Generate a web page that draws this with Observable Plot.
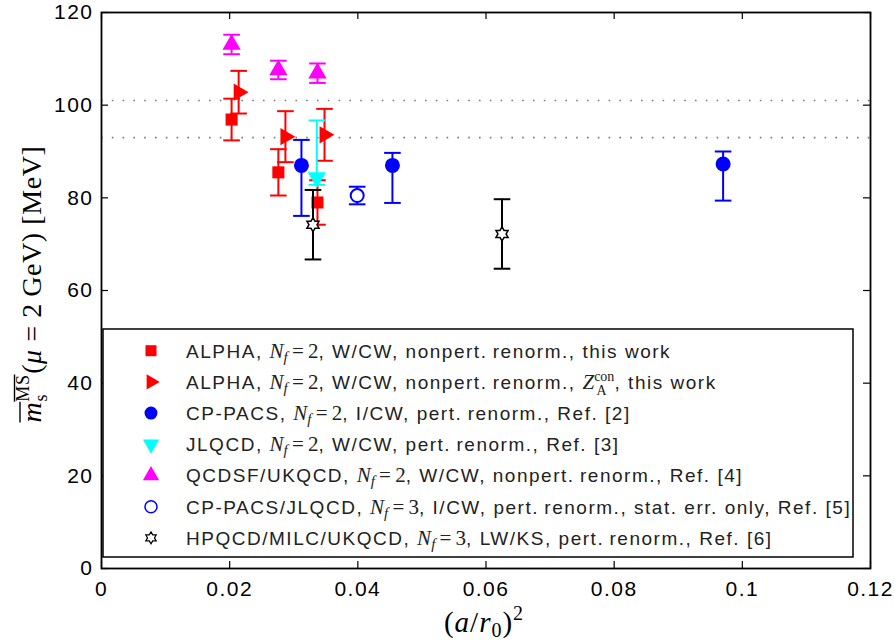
<!DOCTYPE html>
<html><head><meta charset="utf-8">
<script src="https://cdn.jsdelivr.net/npm/d3@7"></script>
<script src="https://cdn.jsdelivr.net/npm/@observablehq/plot@0.6"></script>
<style>body{margin:0;background:#fff}</style>
</head><body><div id="chart"></div>
<script>
// ---------- data ----------
const xTicks = [0, 0.02, 0.04, 0.06, 0.08, 0.1, 0.12];
const yTicks = [0, 20, 40, 60, 80, 100, 120];
const refLines = [93, 101];

const seriesNames = ["ALPHA", "ALPHA-Zcon", "CP-PACS", "JLQCD", "QCDSF/UKQCD", "CP-PACS/JLQCD", "HPQCD/MILC/UKQCD"];
const seriesColors = ["#ff0000", "#ff0000", "#0000ff", "#00ffff", "#ff00ff", "#0000ff", "#000000"];

const alphaX = [0.0203, 0.0276, 0.0337];
const alphaM = [96.9, 85.5, 79.0];
const alphaErr = [4.5, 5.0, 4.8];

const alphaZX = [0.0214, 0.0287, 0.0348];
const alphaZM = [102.8, 93.2, 93.6];
const alphaZErr = [4.6, 5.5, 5.6];

const cppacsX = [0.0312, 0.0454, 0.0970];
const cppacsM = [87.0, 87.0, 87.3];
const cppacsErrUp = [5.5, 2.7, 2.7];
const cppacsErrDn = [10.9, 8.1, 7.9];

const jlqcdX = [0.0336];
const jlqcdM = [84.4];
const jlqcdErrUp = [12.3];
const jlqcdErrDn = [1.6];

const qcdsfX = [0.0203, 0.0276, 0.0337];
const qcdsfM = [113.1, 107.6, 106.9];
const qcdsfErr = [2.1, 2.0, 2.1];

const nf3X = [0.0399];
const nf3M = [80.5];
const nf3Err = [1.9];

const hpqcdX = [0.0330, 0.0625];
const hpqcdM = [74.2, 72.2];
const hpqcdErr = [7.5, 7.5];

const legendLabels = [
  "ALPHA, {N2}, W/CW, nonpert.\u2009renorm., this work",
  "ALPHA, {N2}, W/CW, nonpert.\u2009renorm., {Z}, this work",
  "CP-PACS, {N2}, I/CW, pert.\u2009renorm., Ref. [2]",
  "JLQCD, {N2}, W/CW, pert.\u2009renorm., Ref. [3]",
  "QCDSF/UKQCD, {N2}, W/CW, nonpert.\u2009renorm., Ref. [4]",
  "CP-PACS/JLQCD, {N3}, I/CW, pert.\u2009renorm., stat. err. only, Ref. [5]",
  "HPQCD/MILC/UKQCD, {N3}, LW/KS, pert.\u2009renorm., Ref. [6]"
];

// ---------- build table ----------
function rows(si, xs, ms, up, dn) {
  return xs.map((x, i) => ({series: seriesNames[si], color: seriesColors[si], x, y: ms[i], hi: ms[i] + up[i], lo: ms[i] - (dn || up)[i]}));
}
const groups = [
  rows(0, alphaX, alphaM, alphaErr),
  rows(1, alphaZX, alphaZM, alphaZErr),
  rows(2, cppacsX, cppacsM, cppacsErrUp, cppacsErrDn),
  rows(3, jlqcdX, jlqcdM, jlqcdErrUp, jlqcdErrDn),
  rows(4, qcdsfX, qcdsfM, qcdsfErr),
  rows(5, nf3X, nf3M, nf3Err),
  rows(6, hpqcdX, hpqcdM, hpqcdErr)
];

// ---------- symbols ----------
const capSymbol = {draw(c, size) { const w = Math.sqrt(size / Math.PI); c.moveTo(-w, 0); c.lineTo(w, 0); }};
const hexagram = {draw(c, size) {
  const R = Math.sqrt(size / Math.PI), r = R / Math.sqrt(3);
  for (let k = 0; k < 12; k++) {
    const a = -Math.PI / 2 + k * Math.PI / 6, rr = k % 2 ? r : R;
    const px = rr * Math.cos(a), py = rr * Math.sin(a);
    k ? c.lineTo(px, py) : c.moveTo(px, py);
  }
  c.closePath();
}};
const markerSpec = [
  {symbol: "square", r: 6.8, fill: true},
  {symbol: "triangle", r: 6.4, rotate: 90, fill: true},
  {symbol: "circle", r: 7.5, fill: true},
  {symbol: "triangle", r: 6.8, rotate: 180, fill: true},
  {symbol: "triangle", r: 6.8, fill: true},
  {symbol: "circle", r: 6.5, fill: false},
  {symbol: hexagram, r: 7, fill: false, star: true}
];

// ---------- plot ----------
const W = 895, H = 641, mL = 101, mR = 25, mT = 12, mB = 73;
const innerW = W - mL - mR, innerH = H - mT - mB;
const fmt = d => String(+d.toFixed(2));

const marks = [
  Plot.ruleY(refLines, {y: d => d, stroke: "#7a7a7a", strokeWidth: 1.6, strokeDasharray: "1.6 9.2"}),
  Plot.tickX(xTicks, {x: d => d, insetTop: innerH - 7, stroke: "black", strokeWidth: 1.2}),
  Plot.tickX(xTicks, {x: d => d, insetBottom: innerH - 7, stroke: "black", strokeWidth: 1.2}),
  Plot.tickY(yTicks, {y: d => d, insetRight: innerW - 7, stroke: "black", strokeWidth: 1.2}),
  Plot.tickY(yTicks, {y: d => d, insetLeft: innerW - 7, stroke: "black", strokeWidth: 1.2}),
  Plot.axisX({ticks: xTicks, tickSize: 0, tickPadding: 13, tickFormat: fmt, label: null, fontSize: 21}),
  Plot.axisY({ticks: yTicks, tickSize: 0, tickPadding: 8, label: null, fontSize: 21})
];
groups.forEach((g, i) => {
  const m = markerSpec[i];
  marks.push(
    Plot.ruleX(g, {x: "x", y1: "lo", y2: "hi", stroke: d => d.color, strokeWidth: 2}),
    Plot.dot(g, {x: "x", y: "lo", symbol: capSymbol, r: 8.3, stroke: d => d.color, strokeWidth: 2, fill: "none"}),
    Plot.dot(g, {x: "x", y: "hi", symbol: capSymbol, r: 8.3, stroke: d => d.color, strokeWidth: 2, fill: "none"}),
    Plot.dot(g, {x: "x", y: "y", symbol: m.symbol, r: m.r, rotate: m.rotate || 0,
      fill: m.fill ? (d => d.color) : "white",
      stroke: m.fill ? "none" : (d => d.color), strokeWidth: m.star ? 1.5 : 2})
  );
});
marks.push(Plot.frame({stroke: "black", strokeWidth: 1.8}));

const svgEl = Plot.plot({
  width: W, height: H, marginLeft: mL, marginRight: mR, marginTop: mT, marginBottom: mB,
  x: {domain: [0, 0.12]}, y: {domain: [0, 120]},
  color: {type: "identity"},
  style: {fontFamily: "'Liberation Sans', Arial, sans-serif", fontSize: "21px", letterSpacing: "0.07em", background: "white", color: "black", overflow: "visible"},
  marks
});
document.getElementById("chart").appendChild(svgEl);
const svg = d3.select(svgEl);

// ---------- axis labels ----------
const serif = "'Liberation Serif', 'Times New Roman', serif";
const yl = svg.append("text").attr("transform", "translate(41,284) rotate(-90)")
  .attr("text-anchor", "middle").attr("font-family", serif).attr("font-size", 28)
  .attr("letter-spacing", "0.6px").attr("fill", "black");
const ymT = yl.append("tspan").attr("font-style", "italic").text("m");
const ymsT = yl.append("tspan").attr("font-size", 18).attr("dy", -12).text("MS");
yl.append("tspan").attr("font-size", 18).attr("dx", -27).attr("dy", 18).text("s");
yl.append("tspan").attr("dx", 20).attr("dy", -6).text("(");
yl.append("tspan").attr("font-style", "italic").text("\u03bc");
yl.append("tspan").text(" = 2\u2009GeV) [MeV]");
function overline(tspan, sel, off, widen) {
  const el = tspan.node();
  const n = el.getNumberOfChars();
  const s = el.getStartPositionOfChar(0), e = el.getEndPositionOfChar(n - 1);
  sel.append("line").attr("x1", s.x - widen).attr("x2", e.x + widen)
    .attr("y1", s.y - off).attr("y2", e.y - off)
    .attr("stroke", "black").attr("stroke-width", 1.4);
}
const ylG = svg.append("g").attr("transform", "translate(41,284) rotate(-90)");
overline(ymT, ylG, 21, 0);
overline(ymsT, ylG, 14.5, 0);

const xl = svg.append("text").attr("x", 484).attr("y", 632).attr("text-anchor", "middle")
  .attr("font-family", serif).attr("font-size", 29).attr("letter-spacing", "1px").attr("fill", "black");
xl.append("tspan").text("(");
xl.append("tspan").attr("font-style", "italic").text("a");
xl.append("tspan").text("/");
xl.append("tspan").attr("font-style", "italic").text("r");
xl.append("tspan").attr("font-size", 20).attr("dy", 5).text("0");
xl.append("tspan").attr("dy", -5).text(")");
xl.append("tspan").attr("font-size", 20).attr("dy", -12).text("2");

// ---------- legend ----------
const lg = svg.append("g");
lg.append("rect").attr("x", 103).attr("y", 329).attr("width", 750).attr("height", 228)
  .attr("fill", "white").attr("stroke", "black").attr("stroke-width", 1.5);
const rowY0 = 350.7, rowDY = 31.2, mx = 151, tx = 186;
const legendSym = [
  {type: d3.symbolSquare, size: 121, rot: 0},
  {type: d3.symbolTriangle, size: 100, rot: 90},
  {type: d3.symbolCircle, size: Math.PI * 42, rot: 0},
  {type: d3.symbolTriangle, size: 115, rot: 180},
  {type: d3.symbolTriangle, size: 115, rot: 0},
  {type: d3.symbolCircle, size: Math.PI * 36, rot: 0},
  {type: hexagram, size: Math.PI * 36, rot: 0}
];
legendLabels.forEach((lab, i) => {
  const y = rowY0 + i * rowDY;
  const s = legendSym[i], m = markerSpec[i];
  lg.append("path").attr("d", d3.symbol(s.type, s.size)())
    .attr("transform", `translate(${mx},${y}) rotate(${s.rot})`)
    .attr("fill", m.fill ? seriesColors[i] : "white")
    .attr("stroke", m.fill ? "none" : seriesColors[i])
    .attr("stroke-width", m.star ? 1.2 : 1.5);
  const t = lg.append("text").attr("x", tx).attr("y", y + 6.8).attr("text-anchor", "start")
    .attr("font-family", "'Liberation Sans', Arial, sans-serif").attr("font-size", 19)
    .attr("letter-spacing", "0.08em").attr("fill", "#222");
  let pendingDx = 0, pendingDy = 0;
  lab.split(/(\{[^}]+\})/).forEach(part => {
    if (!part) return;
    if (part === "{N2}" || part === "{N3}") {
      t.append("tspan").attr("font-family", serif).attr("font-size", 21).attr("font-style", "italic").attr("letter-spacing", 0).text("N");
      t.append("tspan").attr("font-family", serif).attr("font-size", 15).attr("font-style", "italic").attr("letter-spacing", 0).attr("dy", 4).text("f");
      t.append("tspan").attr("font-family", serif).attr("font-size", 21).attr("letter-spacing", 0).attr("dy", -4).text("\u2009=\u2009" + (part === "{N2}" ? "2" : "3"));
    } else if (part === "{Z}") {
      t.append("tspan").attr("font-family", serif).attr("font-size", 21).attr("font-style", "italic").attr("letter-spacing", 0).text("Z");
      t.append("tspan").attr("font-family", serif).attr("font-size", 14).attr("letter-spacing", 0).attr("dy", -8).text("con");
      t.append("tspan").attr("font-family", serif).attr("font-size", 14).attr("letter-spacing", 0).attr("dx", -18).attr("dy", 14).text("A");
      pendingDx = 8; pendingDy = -6;
    } else {
      const ts = t.append("tspan").text(part);
      if (pendingDx || pendingDy) { ts.attr("dx", pendingDx).attr("dy", pendingDy); pendingDx = pendingDy = 0; }
    }
  });
});
</script>
</body></html>
